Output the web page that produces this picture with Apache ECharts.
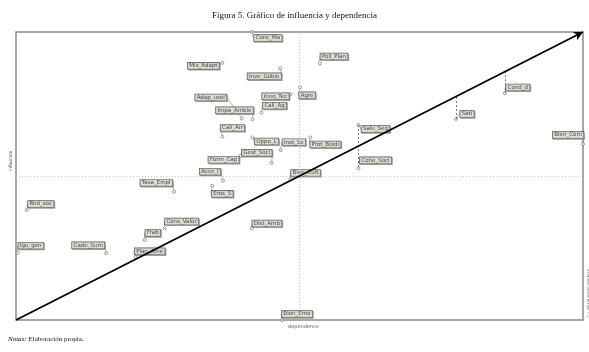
<!DOCTYPE html>
<html>
<head>
<meta charset="utf-8">
<script src="https://cdn.jsdelivr.net/npm/echarts@6/dist/echarts.min.js"></script>
<style>
  html, body { margin: 0; padding: 0; background: #fff; }
  #chart { width: 589px; height: 352px; }
</style>
</head>
<body>
<div id="chart"></div>
<script>
// Variables del plano influencia / dependencia (escala 0-100)
const NAMES = ['Conc_Ma', 'Poli_Plan', 'Mis_Adapt', 'Inve_Gobie', 'Agre', 'Inno_Tec', 'Adap_usol', 'Impa_Ambie',
  'Cali_Ag', 'Cali_Air', 'Oppo_L', 'Inst_Se', 'Prot_Biodi', 'Gest_Soci', 'Form_Cap', 'Acce_I', 'Eros_S',
  'Bien_Cult', 'Salu_Seg', 'Cohe_Soci', 'Sati', 'Cond_d', 'Bien_Com', 'Tasa_Empl', 'Red_soc', 'Cons_Valor',
  'Frab', 'Igu_gen', 'Cade_Sum', 'Plan_Ame', 'Dist_Amb', 'Bien_Emo'];
const DEPENDENCE = [41.6, 53.6, 36.4, 46.6, 50.1, 48.4, 39.8, 41.7, 43.3, 36.4, 41.7, 46.7, 51.9, 45.1, 39.6, 36.5,
  34.6, 48.4, 60.4, 60.4, 77.6, 86.2, 100, 27.9, 1.9, 26.2, 22.7, 0.3, 15.9, 21.1, 41.6, 46.9];
const INFLUENCE = [100, 89.1, 89.3, 87.4, 80.8, 78.4, 70.0, 69.7, 72.0, 63.6, 63.4, 59.0, 63.4, 54.6, 57.0, 48.4,
  46.6, 49.0, 67.7, 52.7, 69.8, 78.7, 61.1, 44.5, 38.2, 31.8, 27.8, 23.4, 23.2, 21.8, 31.8, 0];
// desplazamiento de cada etiqueta respecto a su punto (px)
const LABEL_DX = [16, 14, -19, -16, 7, -15, -31, -18, 13, 10, 14, 13, 15, -15, -17, -13, 10, 15, 17, 17, 11, 13,
  -15, -18, 14, 17, 8, 13, -18, 14, 15, 15];
const LABEL_DY = [6, -7, 3, 8, 8, 2, -21, -9, -7, -9, 4, -8, 7, -10, 4, -9, 8, -6, 4, -8, -5, -6, -9, -9, -6, -7,
  -7, -7, -8, -6, -5, -6];
// trazos discontinuos: [desde, hasta] (null = hasta la diagonal)
const LINKS = [['Salu_Seg', 'Cohe_Soci'], ['Sati', null], ['Cond_d', null]];
const AX_MIN = 0, AX_MAX = 100, AX_MID = 50;

const chart = echarts.init(document.getElementById('chart'));
const pts = NAMES.map((n, i) => ({ name: n, value: [DEPENDENCE[i], INFLUENCE[i]] }));

function coordOf(name) {
  const i = NAMES.indexOf(name);
  return [DEPENDENCE[i], INFLUENCE[i]];
}
const linkLines = LINKS.map(function (l) {
  const a = coordOf(l[0]);
  const b = l[1] ? coordOf(l[1]) : [a[0], a[0]];
  return [{ coord: a }, { coord: b }];
});

chart.setOption({
  animation: false,
  backgroundColor: '#fff',
  title: {
    text: 'Figura 5. Gráfico de influencia y dependencia',
    left: 'center',
    top: 6,
    textStyle: { fontFamily: 'Liberation Serif', fontSize: 9, fontWeight: 'normal', color: '#111' },
  },
  grid: { left: 9, right: 6, top: 32, bottom: 32, show: true, borderColor: '#8a8a8a', borderWidth: 1.5 },
  xAxis: {
    type: 'value', min: AX_MIN, max: AX_MAX,
    name: 'dependence', nameLocation: 'middle', nameGap: 4,
    nameTextStyle: { fontSize: 5, color: '#555', fontFamily: 'DejaVu Sans', padding: [0, 0, 0, 8] },
    axisLine: { show: false }, axisTick: { show: false }, axisLabel: { show: false }, splitLine: { show: false },
  },
  yAxis: {
    type: 'value', min: AX_MIN, max: AX_MAX,
    name: 'influence', nameLocation: 'middle', nameGap: 3, nameRotate: 90,
    nameTextStyle: { fontSize: 4.5, color: '#555', fontFamily: 'DejaVu Sans', padding: [0, 0, 0, 30] },
    axisLine: { show: false }, axisTick: { show: false }, axisLabel: { show: false }, splitLine: { show: false },
  },
  series: [
    {
      type: 'scatter',
      clip: false,
      symbol: 'circle',
      symbolSize: 3,
      itemStyle: { color: '#fff', borderColor: '#666', borderWidth: 0.8 },
      data: pts,
      label: {
        show: true,
        position: 'inside',
        formatter: '{b}',
        fontFamily: 'DejaVu Sans',
        fontSize: 5.5,
        lineHeight: 6,
        color: '#222',
        backgroundColor: '#ececdf',
        borderColor: '#333',
        borderWidth: 0.7,
        padding: [0, 1.5, 0, 1.5],
        shadowColor: '#888',
        shadowOffsetX: 1,
        shadowOffsetY: 1,
      },
      labelLayout: function (p) {
        return { dx: LABEL_DX[p.dataIndex], dy: LABEL_DY[p.dataIndex] };
      },
      labelLine: { show: true, lineStyle: { color: '#888', width: 0.6 } },
      markLine: {
        silent: true,
        symbol: 'none',
        label: { show: false },
        lineStyle: { color: '#bbb', type: [1, 2], width: 0.8 },
        data: [{ xAxis: AX_MID }, { yAxis: AX_MID }],
      },
      z: 3,
    },
    {
      type: 'line',
      data: [],
      markLine: {
        silent: true,
        symbol: 'none',
        label: { show: false },
        lineStyle: { color: '#555', type: [2, 2], width: 0.8 },
        data: linkLines,
      },
    },
    {
      type: 'line',
      data: [],
      markLine: {
        silent: true,
        symbol: ['none', 'arrow'],
        symbolSize: [7, 9],
        label: { show: false },
        lineStyle: { color: '#000', type: 'solid', width: 1.8 },
        data: [[{ coord: [AX_MIN, AX_MIN] }, { coord: [AX_MAX, AX_MAX] }]],
      },
      z: 2,
    },
  ],
  graphic: [
    {
      type: 'text',
      left: 8,
      top: 336,
      style: {
        text: '{i|Notas:} Elaboración propia.',
        font: '7px "Liberation Serif"',
        fill: '#111',
        rich: { i: { fontStyle: 'italic', fontFamily: 'Liberation Serif', fontSize: 7 } },
      },
    },
    {
      type: 'text',
      x: 587,
      y: 318,
      rotation: Math.PI / 2,
      style: { text: '© LIPSOR-EPITA-MICMAC', font: '4px "DejaVu Sans"', fill: '#666' },
    },
  ],
});
</script>
</body>
</html>
